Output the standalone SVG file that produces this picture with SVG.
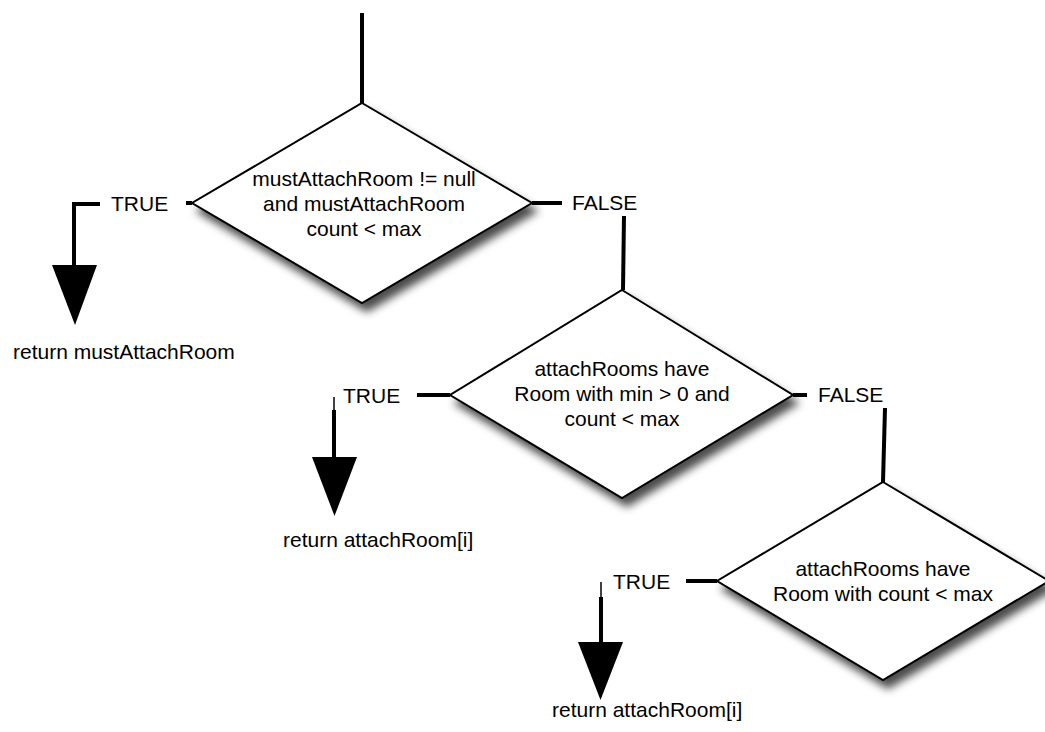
<svg xmlns="http://www.w3.org/2000/svg" width="1045" height="732" viewBox="0 0 1045 732">
<defs>
<filter id="shadow" x="-20%" y="-20%" width="150%" height="150%">
<feDropShadow dx="5" dy="8" stdDeviation="4.5" flood-color="#000" flood-opacity="0.7"/>
</filter>
<style>
.dia{fill:#fff;stroke:#000;stroke-width:2;stroke-linejoin:miter;filter:url(#shadow)}
.ln{stroke:#000;stroke-width:4;fill:none;stroke-linecap:butt;stroke-linejoin:miter}
.thin{stroke:#000;stroke-width:1.5;fill:none}
.head{fill:#000;stroke:none}
.t{font-family:"Liberation Sans",Arial,Helvetica,sans-serif;font-size:21px;fill:#000}
.c{text-anchor:middle}
.bg{fill:#fff;stroke:none}
</style>
</defs>
<rect width="1045" height="732" fill="#fff"/>

<g id="decision1">
<polygon class="dia" points="362,103 532,203 362,303 192,203"/>
<text class="t c" x="364" y="186">mustAttachRoom != null</text>
<text class="t c" x="364" y="211">and mustAttachRoom</text>
<text class="t c" x="364" y="236">count &lt; max</text>
</g>

<g id="decision2">
<polygon class="dia" points="622,290 793,395 622,498 450,395"/>
<text class="t c" x="622" y="376">attachRooms have</text>
<text class="t c" x="622" y="401">Room with min &gt; 0 and</text>
<text class="t c" x="622" y="426">count &lt; max</text>
</g>

<g id="decision3">
<polygon class="dia" points="883,482 1049,581 883,680 717,581"/>
<text class="t c" x="883" y="576">attachRooms have</text>
<text class="t c" x="883" y="601">Room with count &lt; max</text>
</g>

<g id="connectors">
<line class="ln" x1="362" y1="13" x2="362" y2="103"/>
<line class="ln" x1="186" y1="203" x2="192" y2="203"/>
<polyline class="ln" points="100,204 74,204 74,266"/>
<polygon class="head" points="52,265 97,265 75,325"/>
<line class="ln" x1="532" y1="203" x2="562" y2="203"/>
<line class="ln" x1="624" y1="216" x2="623" y2="290"/>
<line class="ln" x1="417" y1="395" x2="450" y2="395"/>
<line class="thin" x1="334" y1="397" x2="334" y2="411"/>
<line class="ln" x1="334" y1="410" x2="334" y2="458"/>
<polygon class="head" points="312,457 357,457 334.5,516"/>
<line class="ln" x1="793" y1="395" x2="807" y2="395"/>
<line class="ln" x1="885" y1="408" x2="883" y2="482"/>
<line class="ln" x1="686" y1="581" x2="717" y2="581"/>
<line class="thin" x1="601" y1="582" x2="601" y2="598"/>
<line class="ln" x1="601" y1="597" x2="601" y2="643"/>
<polygon class="head" points="578,642 623,642 600.5,700"/>
</g>

<g id="label-true1">
<rect class="bg" x="104" y="190" width="80" height="28"/>
<text class="t" x="111" y="211">TRUE</text>
</g>
<g id="label-false1">
<text class="t" x="572" y="210">FALSE</text>
</g>
<g id="label-true2">
<text class="t" x="343" y="403">TRUE</text>
</g>
<g id="label-false2">
<text class="t" x="818" y="402">FALSE</text>
</g>
<g id="label-true3">
<text class="t" x="613" y="589">TRUE</text>
</g>

<g id="return1">
<text class="t" x="13" y="359">return mustAttachRoom</text>
</g>
<g id="return2">
<text class="t" x="283" y="547">return attachRoom[i]</text>
</g>
<g id="return3">
<text class="t" x="552" y="717">return attachRoom[i]</text>
</g>
</svg>
